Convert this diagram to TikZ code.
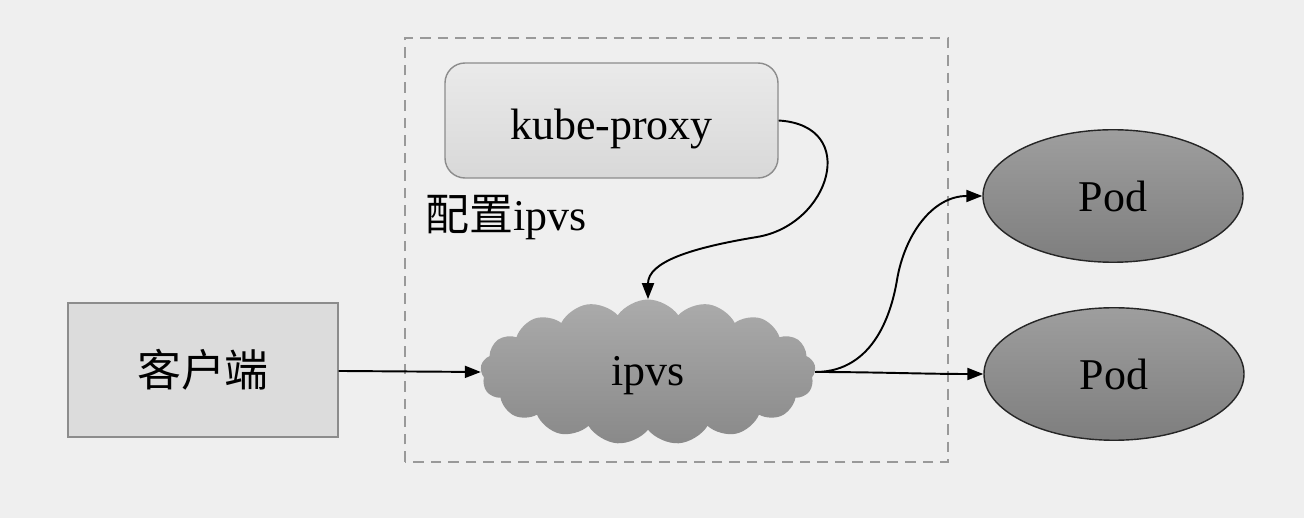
\documentclass[tikz,border=0pt]{standalone}
\usepackage{fontspec}
\setmainfont{Liberation Serif}
\newfontfamily\cjk{Noto Sans CJK SC}
\usepackage{tikz}
\usetikzlibrary{shapes.geometric, shapes.symbols, arrows.meta, calc}
\definecolor{bggray}{HTML}{EFEFEF}
\definecolor{clientgray}{HTML}{DCDCDC}
\definecolor{proxytop}{HTML}{EAEAEA}
\definecolor{proxybottom}{HTML}{D8D8D8}
\definecolor{cloudtop}{HTML}{ABABAB}
\definecolor{cloudbottom}{HTML}{898989}
\definecolor{podtop}{HTML}{9E9E9E}
\definecolor{podbottom}{HTML}{7E7E7E}
\tikzstyle{client} = [rectangle, minimum width=5.4cm, minimum height=2.68cm, text centered, draw=gray!90, fill=clientgray, line width=0.8pt]
\tikzstyle{proxy} = [rectangle, rounded corners=0.4cm, minimum width=6.66cm, minimum height=2.3cm, text centered, text height=0.78cm, text depth=0cm, draw=gray!90, top color=proxytop, bottom color=proxybottom, line width=0.8pt]
\tikzstyle{ipvscloud} = [cloud, cloud puffs=17, cloud puff arc=110, aspect=2.3, minimum width=6.7cm, minimum height=2.9cm, inner sep=0pt, text height=0.56cm, text depth=0cm, top color=cloudtop, bottom color=cloudbottom]
\tikzstyle{pod} = [ellipse, minimum width=5.2cm, minimum height=2.65cm, text centered, draw=black!85, top color=podtop, bottom color=podbottom, line width=0.8pt]
\tikzstyle{arrow} = [line width=1.1pt, -{Triangle[length=0.32cm, width=0.24cm]}]

\begin{document}
\begin{tikzpicture}[font=\fontsize{25}{30}\selectfont]

    \fill[bggray] (0,0) rectangle (26.08,10.36);
    \useasboundingbox (0,0) rectangle (26.08,10.36);

    \draw[gray!80, dashed, line width=0.9pt, dash pattern=on 6pt off 4pt] (8.1,1.12) rectangle (18.96,9.6);

    \node (client) [client] at (4.06,2.96) {\cjk 客户端};

    \node (kube_proxy) [proxy] at (12.23,7.95) {kube-proxy};

    \node (config_label) [anchor=west] at (8.38,6.0) {{\cjk 配置}ipvs};

    \node (ipvs) [ipvscloud] at (12.96,2.92) {ipvs};

    \node (pod_top) [pod] at (22.26,6.44) {Pod};

    \node (pod_bottom) [pod] at (22.28,2.88) {Pod};

    \coordinate (proxy_bend) at (15.14,5.62);

    \coordinate (pod_bend) at (17.94,4.76);

    \draw [arrow] (client) -- (ipvs.west);

    \draw [arrow] (kube_proxy.east) .. controls +(1.64,-0.1) and +(1.46,0.24) .. (proxy_bend) .. controls +(-1.34,-0.22) and +(0,0.74) .. (ipvs.north);

    \draw [arrow] (ipvs.east) .. controls +(1.2,0) and +(-0.1,-0.6) .. (pod_bend) .. controls +(0.15,0.9) and +(-1.0,0) .. (pod_top.west);

    \draw [arrow] (ipvs.east) .. controls +(1.2,0) and +(-1.2,0) .. (pod_bottom.west);

\end{tikzpicture}
\end{document}
